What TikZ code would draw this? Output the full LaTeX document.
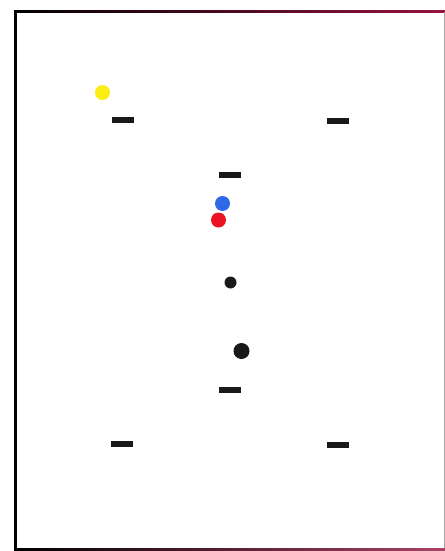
\documentclass[tikz,border=0pt]{standalone}
\usepackage{xcolor}
\usepackage{tikz}
\definecolor{frameRed}{RGB}{150,20,60}
\definecolor{dotYellow}{RGB}{250,238,20}
\definecolor{dotBlue}{RGB}{45,105,230}
\definecolor{dotRed}{RGB}{235,20,35}

\begin{document}
\begin{tikzpicture}[x=0.02cm, y=-0.02cm,
	bar/.style = {fill = black!90, minimum width = 0.45cm, minimum height = 0.12cm, inner sep = 0pt},
	dot/.style = {circle, inner sep = 0pt, minimum size = #1}]
	\useasboundingbox (0,0) rectangle (445,551);
	\fill [white] (0,0) rectangle (445,551);
	% frame
	\shade [left color = black, right color = frameRed] (14,10) rectangle (445,12.5);
	\shade [left color = black, right color = frameRed!80] (14,548) rectangle (445,550.5);
	\fill [black] (14,10) rectangle (16.5,550.5);
	\draw [black!35, line width = 0.5pt] (444,12) -- (444,548);
	% bars
	\node [bar] (tl) at (123,120) {};
	\node [bar] (tr) at (338,121) {};
	\node [bar] (tc) at (230,175) {};
	\node [bar] (bc) at (230,390) {};
	\node [bar] (bl) at (122,444) {};
	\node [bar] (br) at (338,445) {};
	% dots
	\node [dot = 0.3cm, fill = dotYellow] (sun) at (102.5,92.5) {};
	\node [dot = 0.3cm, fill = dotBlue] (blue) at (222.5,203.5) {};
	\node [dot = 0.3cm, fill = dotRed] (red) at (218.5,220) {};
	\node [dot = 0.24cm, fill = black!90] (small) at (230.5,282.5) {};
	\node [dot = 0.32cm, fill = black!90] (big) at (241.5,351) {};
\end{tikzpicture}
\end{document}
